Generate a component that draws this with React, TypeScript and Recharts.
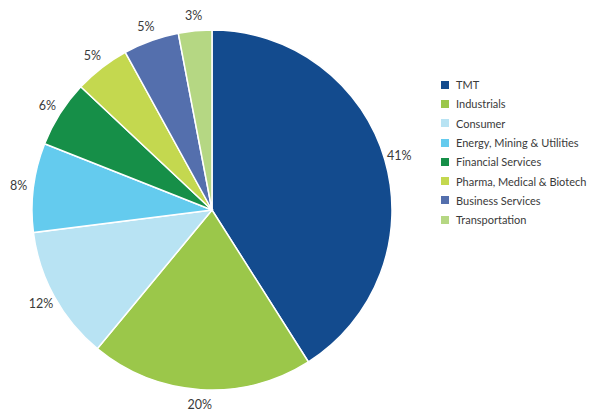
import React from 'react';
import { PieChart, Pie, Cell, Legend } from 'recharts';

const sectors = [
  'TMT',
  'Industrials',
  'Consumer',
  'Energy, Mining & Utilities',
  'Financial Services',
  'Pharma, Medical & Biotech',
  'Business Services',
  'Transportation',
];
const shares = [41, 20, 12, 8, 6, 5, 5, 3];
const colors = ['#134b8e', '#9bc74a', '#b8e3f3', '#64cbee', '#168f48', '#c4d84f', '#546fad', '#b5d783'];

const data = sectors.map((name, i) => ({ name, value: shares[i] }));

const RADIAN = Math.PI / 180;
const FONT = 'Lato, "Open Sans", sans-serif';

// percent labels placed just outside the pie
const renderLabel = ({ cx, cy, midAngle, outerRadius, value }: any) => {
  const r = outerRadius + 15;
  const x = cx + r * Math.cos(-midAngle * RADIAN);
  const y = cy + r * Math.sin(-midAngle * RADIAN);
  return (
    <text x={x} y={y} fill="#3a3a3a" fontSize={12.5} fontFamily={FONT} textAnchor="middle" dominantBaseline="central">
      {`${value}%`}
    </text>
  );
};

const renderLegend = () => (
  <div style={{ fontFamily: FONT, fontSize: 11, color: '#3a3a3a', whiteSpace: 'nowrap' }}>
    {data.map((d, i) => (
      <div key={d.name} style={{ display: 'flex', alignItems: 'center', height: 19.3 }}>
        <span style={{ width: 8, height: 8, background: colors[i], marginRight: 7, display: 'inline-block', flexShrink: 0 }} />
        <span>{d.name}</span>
      </div>
    ))}
  </div>
);

export default function App() {
  return (
    <div style={{ position: 'absolute', left: 0, top: 0, background: '#fff' }}>
      <PieChart width={590} height={411} margin={{ top: 0, right: 0, bottom: 0, left: 0 }}>
        <Pie
          data={data}
          dataKey="value"
          cx={212}
          cy={210}
          outerRadius={180}
          startAngle={90}
          endAngle={-270}
          stroke="#ffffff"
          strokeWidth={1.5}
          label={renderLabel}
          labelLine={false}
          isAnimationActive={false}
        >
          {data.map((d, i) => (
            <Cell key={d.name} fill={colors[i]} />
          ))}
        </Pie>
        <Legend
          content={renderLegend}
          wrapperStyle={{ position: 'absolute', left: 441, top: 75, width: 149 }}
        />
      </PieChart>
    </div>
  );
}
